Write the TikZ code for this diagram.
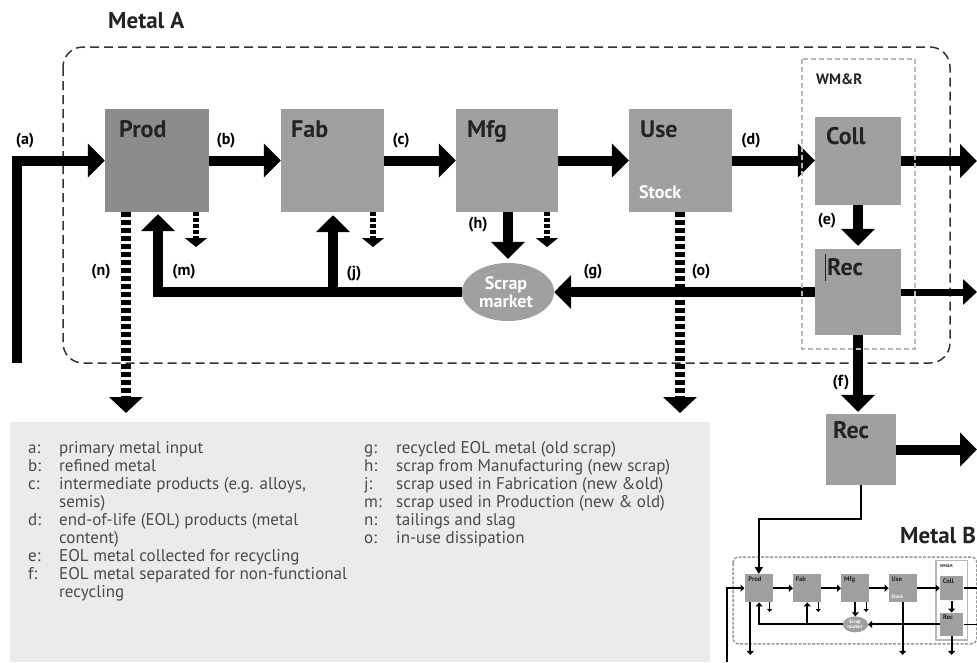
\documentclass[tikz,border=0pt]{standalone}
\usepackage{fontspec}
\setmainfont{PT Sans}
\usetikzlibrary{arrows.meta,shapes.geometric}
\definecolor{boxgray}{HTML}{A0A0A0}
\definecolor{proddark}{HTML}{8C8C8C}
\definecolor{legbg}{HTML}{EBEBEB}
\definecolor{legtext}{HTML}{4A4A4A}
\definecolor{wmrgray}{HTML}{B8B8B8}
\definecolor{txtdark}{HTML}{232323}
\definecolor{borderdark}{HTML}{333333}
\definecolor{minibordgray}{HTML}{9A9A9A}
\tikzset{
  flowarrow/.style={line width=10pt, line join=miter, -{Triangle[length=17pt,width=33pt]}},
  medarrow/.style={line width=7pt, -{Triangle[length=14pt,width=25pt]}},
  lossarrow/.style={line width=10pt, dash pattern=on 5pt off 3pt, -{Triangle[length=16pt,width=33pt]}},
  smallloss/.style={line width=6pt, dash pattern=on 4pt off 2pt, -{Triangle[length=9pt,width=22pt]}},
  linkarrow/.style={line width=2pt, line join=miter, -{Triangle[length=7pt,width=8pt]}},
  miniarrow/.style={line width=2pt, line join=miter, -{Triangle[length=4pt,width=7pt]}},
  minismall/.style={line width=1.2pt, -{Triangle[length=3pt,width=5pt]}},
  procbox/.style={fill=boxgray, inner sep=0pt, draw=none},
  boxlabel/.style={font=\bfseries\fontsize{24}{24}\selectfont, text=txtdark, anchor=base west, inner sep=0pt},
  flowlabel/.style={font=\bfseries\fontsize{16}{16}\selectfont, text=black, inner sep=0pt},
  whitelabel/.style={font=\bfseries\fontsize{18}{18}\selectfont, text=white, inner sep=0pt, align=center},
  stocklabel/.style={font=\bfseries\fontsize{18}{18}\selectfont, text=white, anchor=base west, inner sep=0pt},
  wmrlabel/.style={font=\bfseries\fontsize{15}{15}\selectfont, text=txtdark, anchor=base west, inner sep=0pt},
  titlelabel/.style={font=\bfseries\fontsize{23}{23}\selectfont, text=txtdark, anchor=base west, inner sep=0pt},
  legendtext/.style={font=\fontsize{17}{18}\selectfont, text=legtext, inner sep=0pt, anchor=north west},
}
\begin{document}
\begin{tikzpicture}[x=1pt,y=-1pt]
\useasboundingbox (0,0) rectangle (977,662);
\fill[white] (0,0) rectangle (977,662);
% legend background
\fill[legbg] (10,422) rectangle (710,662);
% Metal A border
\draw[borderdark, line width=1.5pt, dash pattern=on 9pt off 5pt, rounded corners=20pt] (63,47) rectangle (950,363);
\node[titlelabel] (metalA) at (108,28) {Metal A};

% boxes
\node[procbox, fill=proddark, minimum width=104, minimum height=103] (prod) at (157,160.5) {};
\node[procbox, minimum width=103, minimum height=103] (fab) at (332.5,160.5) {};
\node[procbox, minimum width=102, minimum height=103] (mfg) at (507,160.5) {};
\node[procbox, minimum width=103, minimum height=103] (use) at (680.5,160.5) {};
\node[procbox, minimum width=86, minimum height=88] (coll) at (858,161) {};
\node[procbox, minimum width=86, minimum height=86] (rec) at (858,292) {};
\node[procbox, minimum width=70, minimum height=71] (rec2) at (861,449.5) {};
\node[procbox, ellipse, minimum width=92, minimum height=58] (scrap) at (508,292) {};

% box labels
\node[boxlabel] (prodL) at (119,137) {Prod};
\node[boxlabel] (fabL) at (291,137) {Fab};
\node[boxlabel] (mfgL) at (467,137) {Mfg};
\node[boxlabel] (useL) at (640,137) {Use};
\node[boxlabel] (collL) at (826,144) {Coll};
\node[boxlabel] (recL) at (827,275) {Rec};
\node[boxlabel] (rec2L) at (833,438) {Rec};
\node[stocklabel] (stock) at (639,198) {Stock};
\node[whitelabel] (scrapL) at (506,292) {Scrap\\market};
\node[wmrlabel] (wmrL) at (816,84) {WM\&R};
\draw[txtdark, line width=0.8pt] (825,254) -- (825,281);

% main flows
\coordinate (ain) at (17,363);
\draw[flowarrow] (ain) |- (prod.west);
\draw[flowarrow] (prod.east) -- (fab.west);
\draw[flowarrow] (fab.east) -- (mfg.west);
\draw[flowarrow] (mfg.east) -- (use.west);
\draw[flowarrow] (use.east) -- (use.east -| coll.west);
\coordinate (collout) at (977,161);
\draw[flowarrow] (coll.east) -- (collout);
\draw[flowarrow, shorten >=3pt] (coll.south) -- (rec.north);
\coordinate (recout) at (977,292);
\draw[medarrow] (rec.east) -- (recout);
\draw[flowarrow] (rec.west) -- (scrap.east);
\draw[flowarrow, shorten >=2pt] (rec.south) -- (rec.south |- rec2.north);
\coordinate (rec2out) at (977,449.5);
\draw[flowarrow] (rec2.east) -- (rec2out);
\draw[flowarrow, shorten >=4pt] (mfg.south -| scrap.north) -- (scrap.north);
\coordinate (mturn) at (158,292);
\draw[flowarrow, shorten >=2pt] (scrap.west) -- (mturn) -- (mturn |- prod.south);
\coordinate (jfoot) at (333,292);
\draw[flowarrow, shorten >=3pt] (jfoot) -- (jfoot |- fab.south);

% losses
\coordinate (nend) at (126,413);
\draw[lossarrow] (prod.south -| nend) -- (nend);
\coordinate (oend) at (680,413);
\draw[lossarrow] (use.south -| oend) -- (oend);
\coordinate (pl) at (196,247);
\draw[smallloss] (prod.south -| pl) -- (pl);
\coordinate (fl) at (373,247);
\draw[smallloss] (fab.south -| fl) -- (fl);
\coordinate (ml) at (547,247);
\draw[smallloss] (mfg.south -| ml) -- (ml);

% WM&R box
\draw[wmrgray, line width=2pt, dash pattern=on 5pt off 3pt] (802,59) rectangle (915,349);

% flow labels
\node[flowlabel] (la) at (25,141) {(a)};
\node[flowlabel] (lb) at (226,141) {(b)};
\node[flowlabel] (lc) at (401,141) {(c)};
\node[flowlabel] (ld) at (751,141) {(d)};
\node[flowlabel] (lh) at (478,225) {(h)};
\node[flowlabel] (ln) at (101,272) {(n)};
\node[flowlabel] (lm) at (184,272) {(m)};
\node[flowlabel] (lj) at (354,274) {(j)};
\node[flowlabel] (lg) at (593,272) {(g)};
\node[flowlabel] (lo) at (701,272) {(o)};
\node[flowlabel] (le) at (827,221) {(e)};
\node[flowlabel] (lf) at (841,383) {(f)};

% legend
\node[legendtext] (legL) at (28,441) {\begin{tabular}{@{}p{31pt}@{}l@{}}
a: & primary metal input\\
b: & refined metal\\
c: & intermediate products (e.g. alloys,\\
   & semis)\\
d: & end-of-life (EOL) products (metal\\
   & content)\\
e: & EOL metal collected for recycling\\
f: & EOL metal separated for non-functional\\
   & recycling
\end{tabular}};
\node[legendtext] (legR) at (364,441) {\begin{tabular}{@{}p{32pt}@{}l@{}}
g: & recycled EOL metal (old scrap)\\
h: & scrap from Manufacturing (new scrap)\\
j: & scrap used in Fabrication (new \&old)\\
m: & scrap used in Production (new \& old)\\
n: & tailings and slag\\
o: & in-use dissipation
\end{tabular}};

% Metal B
\node[titlelabel] (metalB) at (900,543) {Metal B};
\begin{scope}[shift={(733,557)}, scale=0.275, shift={(-63,-47)}, transform shape]
  \draw[minibordgray, line width=1.5pt, dash pattern=on 3pt off 1.5pt, rounded corners=6pt] (63,47) rectangle (950,363);
  \filldraw[fill=white, draw=wmrgray, line width=1.5pt] (802,59) rectangle (915,349);
  \node[procbox, minimum width=104, minimum height=103] (bprod) at (157,160.5) {};
  \node[procbox, minimum width=103, minimum height=103] (bfab) at (332.5,160.5) {};
  \node[procbox, minimum width=102, minimum height=103] (bmfg) at (507,160.5) {};
  \node[procbox, minimum width=103, minimum height=103] (buse) at (680.5,160.5) {};
  \node[procbox, minimum width=86, minimum height=88] (bcoll) at (858,161) {};
  \node[procbox, minimum width=86, minimum height=86] (brec) at (858,292) {};
  \node[procbox, ellipse, minimum width=92, minimum height=58] (bscrap) at (508,292) {};
  \node[boxlabel] (bprodL) at (119,137) {Prod};
  \node[boxlabel] (bfabL) at (291,137) {Fab};
  \node[boxlabel] (bmfgL) at (467,137) {Mfg};
  \node[boxlabel] (buseL) at (640,137) {Use};
  \node[boxlabel] (bcollL) at (826,144) {Coll};
  \node[boxlabel] (brecL) at (827,275) {Rec};
  \node[stocklabel] (bstock) at (639,198) {Stock};
  \node[whitelabel] (bscrapL) at (506,292) {Scrap\\market};
  \node[wmrlabel] (bwmrL) at (816,84) {WM\&R};
  \coordinate (bain) at (40,429);
  \draw[miniarrow] (bain) |- (bprod.west);
  \draw[miniarrow] (bprod.east) -- (bfab.west);
  \draw[miniarrow] (bfab.east) -- (bmfg.west);
  \draw[miniarrow] (bmfg.east) -- (buse.west);
  \draw[miniarrow] (buse.east) -- (buse.east -| bcoll.west);
  \coordinate (bcollout) at (1000,161);
  \draw[line width=2pt] (bcoll.east) -- (bcollout);
  \draw[miniarrow] (bcoll.south) -- (brec.north);
  \coordinate (brecout) at (1000,292);
  \draw[line width=1.5pt] (brec.east) -- (brecout);
  \draw[miniarrow] (brec.west) -- (bscrap.east);
  \coordinate (bfend) at (858,403);
  \draw[miniarrow] (brec.south) -- (bfend);
  \draw[miniarrow] (bmfg.south -| bscrap.north) -- (bscrap.north);
  \coordinate (bmturn) at (158,292);
  \draw[miniarrow] (bscrap.west) -- (bmturn) -- (bmturn |- bprod.south);
  \coordinate (bjfoot) at (333,292);
  \draw[miniarrow] (bjfoot) -- (bjfoot |- bfab.south);
  \coordinate (bnend) at (126,403);
  \draw[miniarrow] (bprod.south -| bnend) -- (bnend);
  \coordinate (boend) at (680,403);
  \draw[miniarrow] (buse.south -| boend) -- (boend);
  \coordinate (bpl) at (196,247);
  \draw[minismall] (bprod.south -| bpl) -- (bpl);
  \coordinate (bfl) at (373,247);
  \draw[minismall] (bfab.south -| bfl) -- (bfl);
  \coordinate (bml) at (547,247);
  \draw[minismall] (bmfg.south -| bml) -- (bml);
\end{scope}
\coordinate (fturn) at (861,519);
\draw[linkarrow] (rec2.south) -- (fturn) -| (bprod.north);
\end{tikzpicture}
\end{document}
